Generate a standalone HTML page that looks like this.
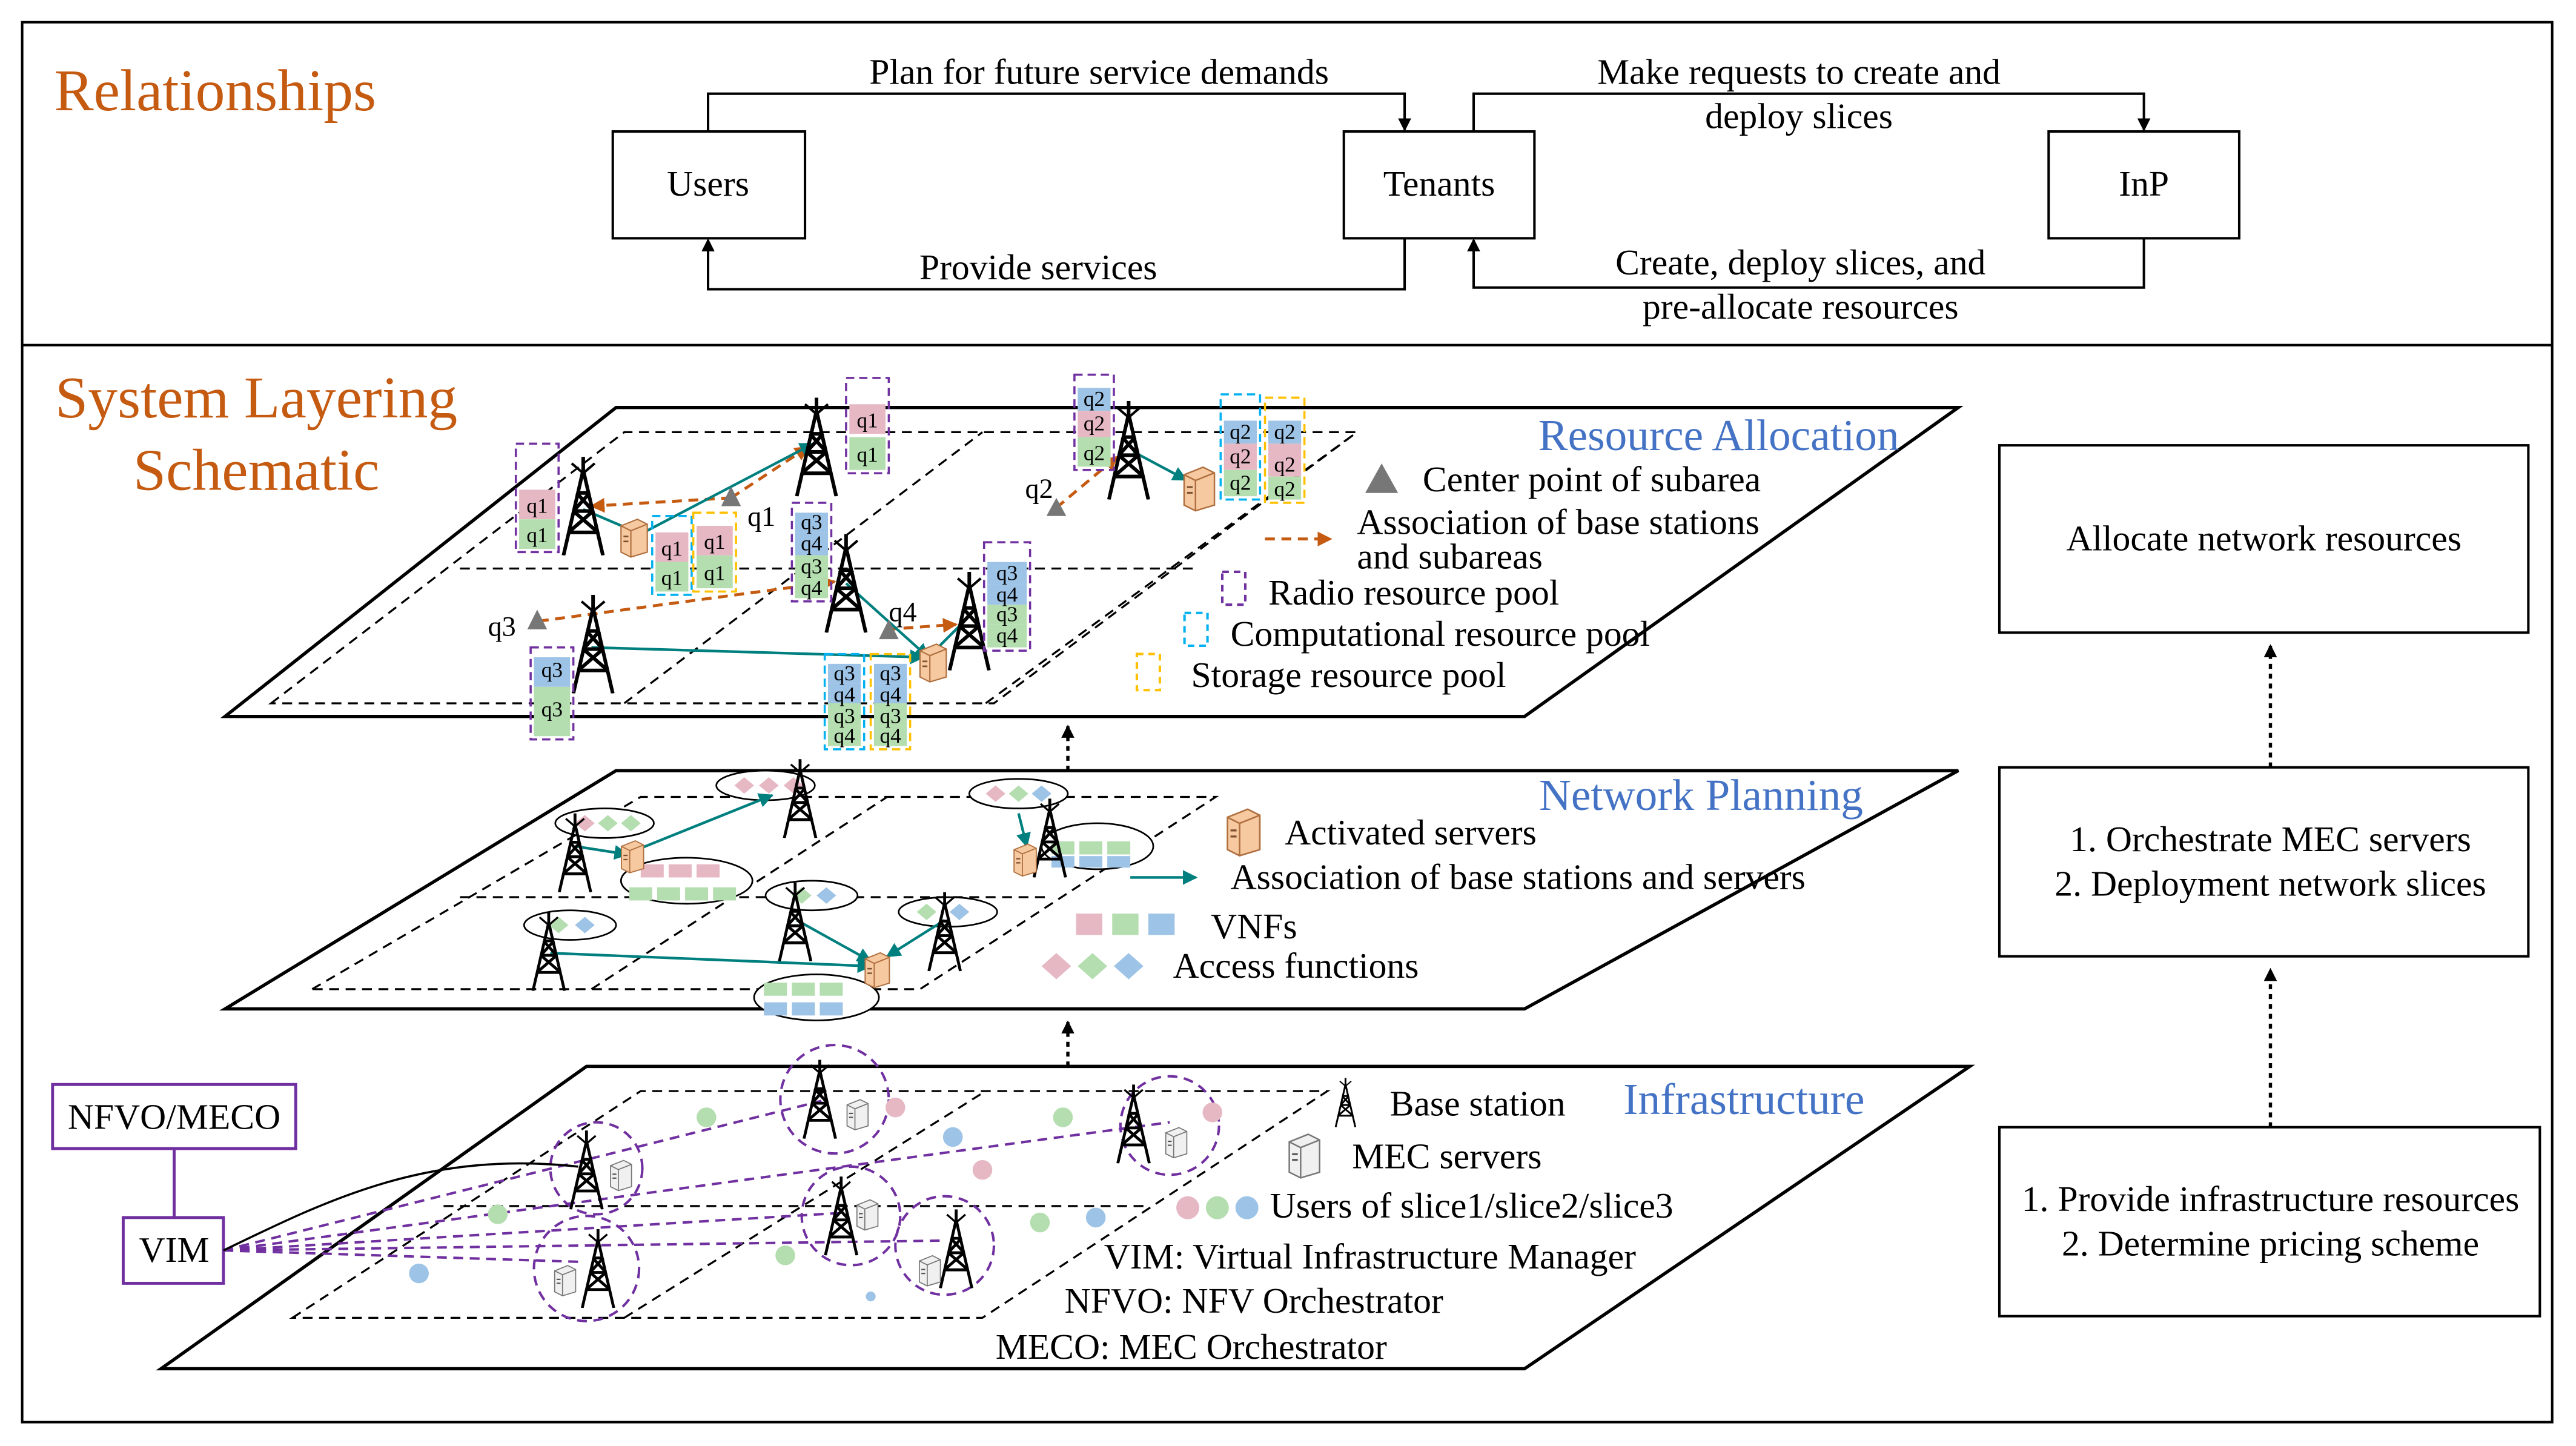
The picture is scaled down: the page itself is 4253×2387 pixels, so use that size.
<!DOCTYPE html>
<html><head><meta charset="utf-8"><style>
html,body{margin:0;padding:0;background:#fff}
svg{display:block}
text{font-family:"Liberation Serif",serif;fill:#000}
</style></head><body>
<svg width="4253" height="2387" viewBox="0 0 1568 880" xmlns="http://www.w3.org/2000/svg">
<defs>
<marker id="ah" markerWidth="8" markerHeight="8" refX="7" refY="4" orient="auto" markerUnits="userSpaceOnUse"><path d="M0,0 L8,4 L0,8z" fill="#000"/></marker>
<marker id="at" markerWidth="9" markerHeight="9" refX="8" refY="4.5" orient="auto" markerUnits="userSpaceOnUse"><path d="M0,0 L9,4.5 L0,9z" fill="#007f7f"/></marker>
<marker id="ao" markerWidth="9" markerHeight="9" refX="8" refY="4.5" orient="auto" markerUnits="userSpaceOnUse"><path d="M0,0 L9,4.5 L0,9z" fill="#c55a11"/></marker>
<symbol id="tw" viewBox="0 0 30 60">
<g stroke="#000" stroke-width="2.2" fill="none"><path d="M15,0 V8 M15,8 L3,60 M15,8 L27,60 M9,33 H21 M6,46 H24 M11,22 H19 M9,33 L24,46 M21,33 L6,46 M11,22 L21,33 M19,22 L9,33"/></g>
<path d="M8,4 L15,10 L22,4" stroke="#000" stroke-width="1.5" fill="none"/>
</symbol>
<symbol id="sv" viewBox="0 0 20 26"><path d="M2,6 L12,2 L18,5 L18,22 L8,25 L2,22z" fill="#f6c9a0" stroke="#b07040" stroke-width="0.8"/><path d="M2,6 L8,9 L18,5 M8,9 V25" stroke="#b07040" stroke-width="0.8" fill="none"/><rect x="3.5" y="12" width="3" height="1" fill="#805030"/><rect x="3.5" y="15" width="3" height="1" fill="#805030"/></symbol>
<symbol id="gs" viewBox="0 0 20 26"><path d="M2,6 L12,2 L18,5 L18,22 L8,25 L2,22z" fill="#f0f0f0" stroke="#777" stroke-width="0.8"/><path d="M2,6 L8,9 L18,5 M8,9 V25" stroke="#777" stroke-width="0.8" fill="none"/><rect x="3.5" y="12" width="3" height="1" fill="#555"/><rect x="3.5" y="15" width="3" height="1" fill="#555"/></symbol>
</defs>
<rect x="0" y="0" width="1568" height="880" fill="#fff"/>
<rect x="13.5" y="13.5" width="1540" height="852" fill="none" stroke="#000" stroke-width="1.5"/>
<line x1="13" y1="210" x2="1554" y2="210" stroke="#000" stroke-width="1.5"/>

<text x="33" y="67" font-size="36" style="fill:#c55a11">Relationships</text>
<g fill="none" stroke="#000" stroke-width="1.5">
<rect x="373" y="80" width="117" height="65"/>
<rect x="818" y="80" width="116" height="65"/>
<rect x="1247" y="80" width="116" height="65"/>
<path d="M431,80 V57 H855 V79" marker-end="url(#ah)"/>
<path d="M855,145 V176 H431 V146" marker-end="url(#ah)"/>
<path d="M897,80 V57 H1305 V79" marker-end="url(#ah)"/>
<path d="M1305,145 V175 H897 V146" marker-end="url(#ah)"/>
</g>
<g font-size="22" text-anchor="middle">
<text x="431" y="119">Users</text><text x="876" y="119">Tenants</text><text x="1305" y="119">InP</text>
<text x="669" y="51">Plan for future service demands</text>
<text x="632" y="170">Provide services</text>
<text x="1095" y="51">Make requests to create and</text>
<text x="1095" y="78">deploy slices</text>
<text x="1096" y="167">Create, deploy slices, and</text>
<text x="1096" y="194">pre-allocate resources</text>
</g>

<g font-size="36" text-anchor="middle"><text x="156" y="254" style="fill:#c55a11">System Layering</text><text x="156" y="298" style="fill:#c55a11">Schematic</text></g>

<g fill="none" stroke="#000" stroke-width="1.5">
<rect x="1217" y="271" width="322" height="114"/>
<rect x="1217" y="467" width="322" height="115"/>
<rect x="1217" y="686" width="329" height="115"/>
</g>
<g stroke="#000" stroke-width="2" stroke-dasharray="3,3" fill="none">
<path d="M1382,686 V590" marker-end="url(#ah)"/>
<path d="M1382,467 V393" marker-end="url(#ah)"/>
<path d="M650,649 V622" marker-end="url(#ah)"/>
<path d="M650,469 V442" marker-end="url(#ah)"/>
</g>
<g font-size="22" text-anchor="middle">
<text x="1378" y="335">Allocate network resources</text>
<text x="1382" y="518">1. Orchestrate MEC servers</text>
<text x="1382" y="545">2. Deployment network slices</text>
<text x="1382" y="737">1. Provide infrastructure resources</text>
<text x="1382" y="764">2. Determine pricing scheme</text>
</g>

<g fill="none" stroke="#000" stroke-width="2">
<path d="M137,436 L375,248 L1192,248 L928,436z"/>
<path d="M137,614 L375,469 L1192,469 L928,614z"/>
<path d="M98,833 L357,649 L1199,649 L928,833z"/>
</g>
<g fill="none" stroke="#000" stroke-width="1.2" stroke-dasharray="6,4">
<path d="M165,428 L380,263 L826,263 L605,428z"/>
<path d="M280,346 H730"/><path d="M380,428 L598,263"/><path d="M600,428 L826,263"/>
<path d="M190,602 L390,485 L740,485 L560,602z"/>
<path d="M280,546 H640"/><path d="M360,602 L540,485"/>
<path d="M178,802 L390,664 L808,664 L598,802z"/>
<path d="M270,734 H700"/><path d="M380,802 L600,664"/>
</g>

<g font-size="27" text-anchor="end">
<text x="1156" y="274" style="fill:#4472c4">Resource Allocation</text>
<text x="1134" y="493" style="fill:#4472c4">Network Planning</text>
<text x="1135" y="678" style="fill:#4472c4">Infrastructure</text>
</g>

<g stroke="#c55a11" stroke-width="1.8" stroke-dasharray="6,4" fill="none">
<path d="M445,303 L360,308" marker-end="url(#ao)"/>
<path d="M445,303 L492,272" marker-end="url(#ao)"/>
<path d="M643,309 L680,278" marker-end="url(#ao)"/>
<path d="M328,378 L508,354" marker-end="url(#ao)"/>
<path d="M540,383 L582,380" marker-end="url(#ao)"/>
<path d="M770,328 L810,328" marker-end="url(#ao)"/>
</g>
<g stroke="#007f7f" stroke-width="1.6" fill="none">
<path d="M355,310 L390,325 L495,270" marker-end="url(#at)"/>
<path d="M690,275 L722,292" marker-end="url(#at)"/>
<path d="M515,355 L565,400" marker-end="url(#at)"/>
<path d="M590,375 L570,395"/>
<path d="M360,394 L562,400" marker-end="url(#at)"/>
</g>
<g fill="#777"><path d="M445,296 L451,308 L439,308z"/><path d="M643,303 L649,314 L637,314z"/><path d="M327,371 L333,383 L321,383z"/><path d="M541,377 L547,389 L535,389z"/><path d="M841,282 L851,300 L831,300z"/></g>
<use href="#tw" x="340" y="278" width="30" height="60"/>
<use href="#tw" x="482" y="242" width="30" height="60"/>
<use href="#tw" x="672" y="244" width="30" height="60"/>
<use href="#tw" x="500" y="325" width="30" height="60"/>
<use href="#tw" x="575" y="348" width="30" height="60"/>
<use href="#tw" x="346" y="362" width="30" height="60"/>
<use href="#sv" x="376" y="314" width="20" height="26"/>
<use href="#sv" x="718" y="282" width="24" height="30"/>
<use href="#sv" x="558" y="390" width="20" height="26"/>
<use href="#sv" x="744" y="490" width="26" height="32"/>
<g font-size="17"><text x="455" y="320">q1</text><text x="624" y="303">q2</text><text x="297" y="387">q3</text><text x="541" y="378">q4</text></g>

<g font-size="13" text-anchor="middle" stroke-width="1.3">
<g><rect x="316" y="298" width="22" height="18" fill="#e6b8c4"/><rect x="316" y="316" width="22" height="18" fill="#b5deb0"/><rect x="314" y="270" width="26" height="66" fill="none" stroke="#7030a0" stroke-dasharray="5,3"/><text x="327" y="312">q1</text><text x="327" y="330">q1</text></g>
<g><rect x="517" y="246" width="22" height="18" fill="#e6b8c4"/><rect x="517" y="266" width="22" height="20" fill="#b5deb0"/><rect x="515" y="230" width="26" height="58" fill="none" stroke="#7030a0" stroke-dasharray="5,3"/><text x="528" y="260">q1</text><text x="528" y="281">q1</text></g>
<g><rect x="399" y="324" width="20" height="18" fill="#e6b8c4"/><rect x="399" y="342" width="20" height="18" fill="#b5deb0"/><rect x="397" y="314" width="24" height="48" fill="none" stroke="#00b0f0" stroke-dasharray="5,3"/><text x="409" y="338">q1</text><text x="409" y="356">q1</text></g>
<g><rect x="424" y="320" width="22" height="18" fill="#e6b8c4"/><rect x="424" y="338" width="22" height="20" fill="#b5deb0"/><rect x="422" y="312" width="26" height="48" fill="none" stroke="#ffc000" stroke-dasharray="5,3"/><text x="435" y="334">q1</text><text x="435" y="353">q1</text></g>
<g><rect x="656" y="236" width="20" height="14" fill="#9dc3e6"/><rect x="656" y="250" width="20" height="16" fill="#e6b8c4"/><rect x="656" y="266" width="20" height="18" fill="#b5deb0"/><rect x="654" y="228" width="24" height="58" fill="none" stroke="#7030a0" stroke-dasharray="5,3"/><text x="666" y="247">q2</text><text x="666" y="262">q2</text><text x="666" y="280">q2</text></g>
<g><rect x="745" y="256" width="20" height="14" fill="#9dc3e6"/><rect x="745" y="270" width="20" height="16" fill="#e6b8c4"/><rect x="745" y="286" width="20" height="16" fill="#b5deb0"/><rect x="743" y="240" width="24" height="64" fill="none" stroke="#00b0f0" stroke-dasharray="5,3"/><text x="755" y="267">q2</text><text x="755" y="282">q2</text><text x="755" y="298">q2</text></g>
<g><rect x="772" y="256" width="20" height="14" fill="#9dc3e6"/><rect x="772" y="270" width="20" height="20" fill="#e6b8c4"/><rect x="772" y="290" width="20" height="14" fill="#b5deb0"/><rect x="770" y="242" width="24" height="64" fill="none" stroke="#ffc000" stroke-dasharray="5,3"/><text x="782" y="267">q2</text><text x="782" y="287">q2</text><text x="782" y="302">q2</text></g>
<g><rect x="484" y="312" width="20" height="12" fill="#9dc3e6"/><rect x="484" y="324" width="20" height="14" fill="#9dc3e6"/><rect x="484" y="338" width="20" height="14" fill="#b5deb0"/><rect x="484" y="352" width="20" height="12" fill="#b5deb0"/><rect x="482" y="306" width="24" height="60" fill="none" stroke="#7030a0" stroke-dasharray="5,3"/><text x="494" y="322">q3</text><text x="494" y="335">q4</text><text x="494" y="349">q3</text><text x="494" y="362">q4</text></g>
<g><rect x="601" y="342" width="24" height="14" fill="#9dc3e6"/><rect x="601" y="356" width="24" height="12" fill="#9dc3e6"/><rect x="601" y="368" width="24" height="12" fill="#b5deb0"/><rect x="601" y="380" width="24" height="14" fill="#b5deb0"/><rect x="599" y="330" width="28" height="66" fill="none" stroke="#7030a0" stroke-dasharray="5,3"/><text x="613" y="353">q3</text><text x="613" y="366">q4</text><text x="613" y="378">q3</text><text x="613" y="391">q4</text></g>
<g><rect x="325" y="400" width="22" height="18" fill="#9dc3e6"/><rect x="325" y="418" width="22" height="30" fill="#b5deb0"/><rect x="323" y="394" width="26" height="56" fill="none" stroke="#7030a0" stroke-dasharray="5,3"/><text x="336" y="412">q3</text><text x="336" y="436">q3</text></g>
<g><rect x="504" y="404" width="20" height="12" fill="#9dc3e6"/><rect x="504" y="416" width="20" height="12" fill="#9dc3e6"/><rect x="504" y="428" width="20" height="14" fill="#b5deb0"/><rect x="504" y="442" width="20" height="12" fill="#b5deb0"/><rect x="502" y="398" width="24" height="58" fill="none" stroke="#00b0f0" stroke-dasharray="5,3"/><text x="514" y="414">q3</text><text x="514" y="427">q4</text><text x="514" y="440">q3</text><text x="514" y="452">q4</text></g>
<g><rect x="532" y="404" width="20" height="12" fill="#9dc3e6"/><rect x="532" y="416" width="20" height="12" fill="#9dc3e6"/><rect x="532" y="428" width="20" height="14" fill="#b5deb0"/><rect x="532" y="442" width="20" height="12" fill="#b5deb0"/><rect x="530" y="398" width="24" height="58" fill="none" stroke="#ffc000" stroke-dasharray="5,3"/><text x="542" y="414">q3</text><text x="542" y="427">q4</text><text x="542" y="440">q3</text><text x="542" y="452">q4</text></g>
</g>
<g stroke-width="1.5" fill="none" stroke-dasharray="4,3">
<rect x="744" y="348" width="14" height="20" stroke="#7030a0"/>
<rect x="721" y="373" width="14" height="20" stroke="#00b0f0"/>
<rect x="692" y="398" width="14" height="22" stroke="#ffc000"/>
</g>
<g font-size="22">
<text x="866" y="299">Center point of subarea</text>
<text x="826" y="325">Association of base stations</text>
<text x="826" y="346">and subareas</text>
<text x="772" y="368">Radio resource pool</text>
<text x="749" y="393">Computational resource pool</text>
<text x="725" y="418">Storage resource pool</text>
</g>

<g stroke="#000" stroke-width="1" fill="#fff">
<ellipse cx="466" cy="478" rx="30" ry="9"/><ellipse cx="368" cy="501" rx="30" ry="9"/><ellipse cx="620" cy="483" rx="30" ry="9"/>
<ellipse cx="347" cy="563" rx="28" ry="9"/><ellipse cx="494" cy="545" rx="28" ry="9"/><ellipse cx="577" cy="555" rx="30" ry="9"/>
<ellipse cx="418" cy="536" rx="40" ry="14"/><ellipse cx="668" cy="515" rx="34" ry="14"/><ellipse cx="497" cy="607" rx="38" ry="14"/>
</g>
<g>
<path d="M447,478 l6,-5 6,5 -6,5z M462,478 l6,-5 6,5 -6,5z M477,478 l6,-5 6,5 -6,5z" fill="#e6b8c4"/>
<path d="M350,501 l6,-5 6,5 -6,5z" fill="#e6b8c4"/><path d="M364,501 l6,-5 6,5 -6,5z" fill="#b5deb0"/><path d="M378,501 l6,-5 6,5 -6,5z" fill="#b5deb0"/>
<path d="M600,483 l6,-5 6,5 -6,5z" fill="#e6b8c4"/><path d="M614,483 l6,-5 6,5 -6,5z" fill="#b5deb0"/><path d="M628,483 l6,-5 6,5 -6,5z" fill="#9dc3e6"/>
<path d="M334,563 l6,-5 6,5 -6,5z" fill="#b5deb0"/><path d="M350,563 l6,-5 6,5 -6,5z" fill="#9dc3e6"/>
<path d="M482,545 l6,-5 6,5 -6,5z" fill="#b5deb0"/><path d="M497,545 l6,-5 6,5 -6,5z" fill="#9dc3e6"/>
<path d="M558,555 l6,-5 6,5 -6,5z" fill="#b5deb0"/><path d="M578,555 l6,-5 6,5 -6,5z" fill="#9dc3e6"/>
<rect x="390" y="526" width="14" height="8" fill="#e6b8c4"/><rect x="407" y="526" width="14" height="8" fill="#e6b8c4"/><rect x="424" y="526" width="14" height="8" fill="#e6b8c4"/>
<rect x="383" y="540" width="14" height="8" fill="#b5deb0"/><rect x="400" y="540" width="14" height="8" fill="#b5deb0"/><rect x="417" y="540" width="14" height="8" fill="#b5deb0"/><rect x="434" y="540" width="14" height="8" fill="#b5deb0"/>
<rect x="640" y="512" width="14" height="8" fill="#b5deb0"/><rect x="657" y="512" width="14" height="8" fill="#b5deb0"/><rect x="674" y="512" width="14" height="8" fill="#b5deb0"/>
<rect x="640" y="521" width="14" height="7" fill="#9dc3e6"/><rect x="657" y="521" width="14" height="7" fill="#9dc3e6"/><rect x="674" y="521" width="14" height="7" fill="#9dc3e6"/>
<rect x="465" y="598" width="14" height="8" fill="#b5deb0"/><rect x="482" y="598" width="14" height="8" fill="#b5deb0"/><rect x="499" y="598" width="14" height="8" fill="#b5deb0"/>
<rect x="465" y="610" width="14" height="8" fill="#9dc3e6"/><rect x="482" y="610" width="14" height="8" fill="#9dc3e6"/><rect x="499" y="610" width="14" height="8" fill="#9dc3e6"/>
</g>
<g stroke="#007f7f" stroke-width="1.6" fill="none">
<path d="M388,517 L470,484" marker-end="url(#at)"/>
<path d="M350,515 L382,520" marker-end="url(#at)"/>
<path d="M335,580 L530,588" marker-end="url(#at)"/>
<path d="M485,560 L530,585" marker-end="url(#at)"/>
<path d="M575,560 L540,582" marker-end="url(#at)"/>
<path d="M620,495 L625,515" marker-end="url(#at)"/>
<path d="M688,534 L728,534" marker-end="url(#at)"/>
</g>
<use href="#tw" x="475" y="462" width="24" height="48"/>
<use href="#tw" x="338" y="495" width="24" height="48"/>
<use href="#tw" x="322" y="555" width="24" height="48"/>
<use href="#tw" x="472" y="537" width="24" height="48"/>
<use href="#tw" x="563" y="543" width="24" height="48"/>
<use href="#tw" x="627" y="486" width="24" height="48"/>
<use href="#sv" x="376" y="510" width="18" height="22"/>
<use href="#sv" x="615" y="512" width="18" height="22"/>
<use href="#sv" x="524" y="578" width="20" height="24"/>
<g><rect x="655" y="556" width="16" height="13" fill="#e6b8c4"/><rect x="677" y="556" width="16" height="13" fill="#b5deb0"/><rect x="699" y="556" width="16" height="13" fill="#9dc3e6"/>
<path d="M634,588 l9,-8 9,8 -9,8z" fill="#e6b8c4"/><path d="M656,588 l9,-8 9,8 -9,8z" fill="#b5deb0"/><path d="M678,588 l9,-8 9,8 -9,8z" fill="#9dc3e6"/></g>
<g font-size="22">
<text x="782" y="514">Activated servers</text>
<text x="749" y="541">Association of base stations and servers</text>
<text x="737" y="571">VNFs</text>
<text x="714" y="595">Access functions</text>
</g>

<rect x="32" y="660" width="148" height="39" fill="none" stroke="#7030a0" stroke-width="1.8"/>
<rect x="75" y="741" width="61" height="40" fill="none" stroke="#7030a0" stroke-width="1.8"/>
<line x1="106" y1="699" x2="106" y2="741" stroke="#7030a0" stroke-width="1.8"/>
<text x="106" y="687" font-size="22" text-anchor="middle">NFVO/MECO</text>
<text x="106" y="768" font-size="22" text-anchor="middle">VIM</text>
<g stroke="#7030a0" stroke-width="1.5" fill="none" stroke-dasharray="6,4">
<circle cx="508" cy="669" r="33"/><circle cx="363" cy="711" r="28"/><circle cx="518" cy="740" r="30"/><circle cx="575" cy="758" r="30"/><circle cx="712" cy="685" r="30"/><circle cx="357" cy="772" r="32"/>
<path d="M136,761 L500,670 M136,761 L360,705 M136,761 L515,738 M136,761 L575,755 M136,761 L712,683 M136,761 L355,768"/>
</g>
<path d="M136,761 C200,730 260,700 352,710" stroke="#000" stroke-width="1.3" fill="none"/>
<use href="#tw" x="487" y="645" width="24" height="48"/>
<use href="#tw" x="345" y="688" width="24" height="48"/>
<use href="#tw" x="500" y="716" width="24" height="48"/>
<use href="#tw" x="570" y="736" width="24" height="48"/>
<use href="#tw" x="678" y="660" width="24" height="48"/>
<use href="#tw" x="352" y="748" width="24" height="48"/>
<use href="#tw" x="808" y="656" width="22" height="30"/>
<use href="#gs" x="514" y="667" width="16" height="22"/>
<use href="#gs" x="370" y="704" width="16" height="22"/>
<use href="#gs" x="520" y="728" width="16" height="22"/>
<use href="#gs" x="558" y="762" width="16" height="22"/>
<use href="#gs" x="708" y="684" width="16" height="22"/>
<use href="#gs" x="336" y="768" width="16" height="22"/>
<use href="#gs" x="782" y="688" width="24" height="30"/>
<g>
<circle cx="430" cy="680" r="6" fill="#b5deb0"/><circle cx="545" cy="674" r="6" fill="#e6b8c4"/><circle cx="580" cy="692" r="6" fill="#9dc3e6"/><circle cx="598" cy="712" r="6" fill="#e6b8c4"/><circle cx="647" cy="680" r="6" fill="#b5deb0"/><circle cx="738" cy="677" r="6" fill="#e6b8c4"/>
<circle cx="303" cy="739" r="6" fill="#b5deb0"/><circle cx="255" cy="775" r="6" fill="#9dc3e6"/><circle cx="478" cy="764" r="6" fill="#b5deb0"/><circle cx="633" cy="744" r="6" fill="#b5deb0"/><circle cx="667" cy="741" r="6" fill="#9dc3e6"/><circle cx="530" cy="789" r="3" fill="#9dc3e6"/>
<circle cx="723" cy="735" r="7" fill="#e6b8c4"/><circle cx="741" cy="735" r="7" fill="#b5deb0"/><circle cx="759" cy="735" r="7" fill="#9dc3e6"/>
</g>
<g font-size="22">
<text x="846" y="679">Base station</text>
<text x="823" y="711">MEC servers</text>
<text x="773" y="741">Users of slice1/slice2/slice3</text>
<text x="672" y="772">VIM: Virtual Infrastructure Manager</text>
<text x="648" y="799">NFVO: NFV Orchestrator</text>
<text x="606" y="827">MECO: MEC Orchestrator</text>
</g>
</svg>
</body></html>
